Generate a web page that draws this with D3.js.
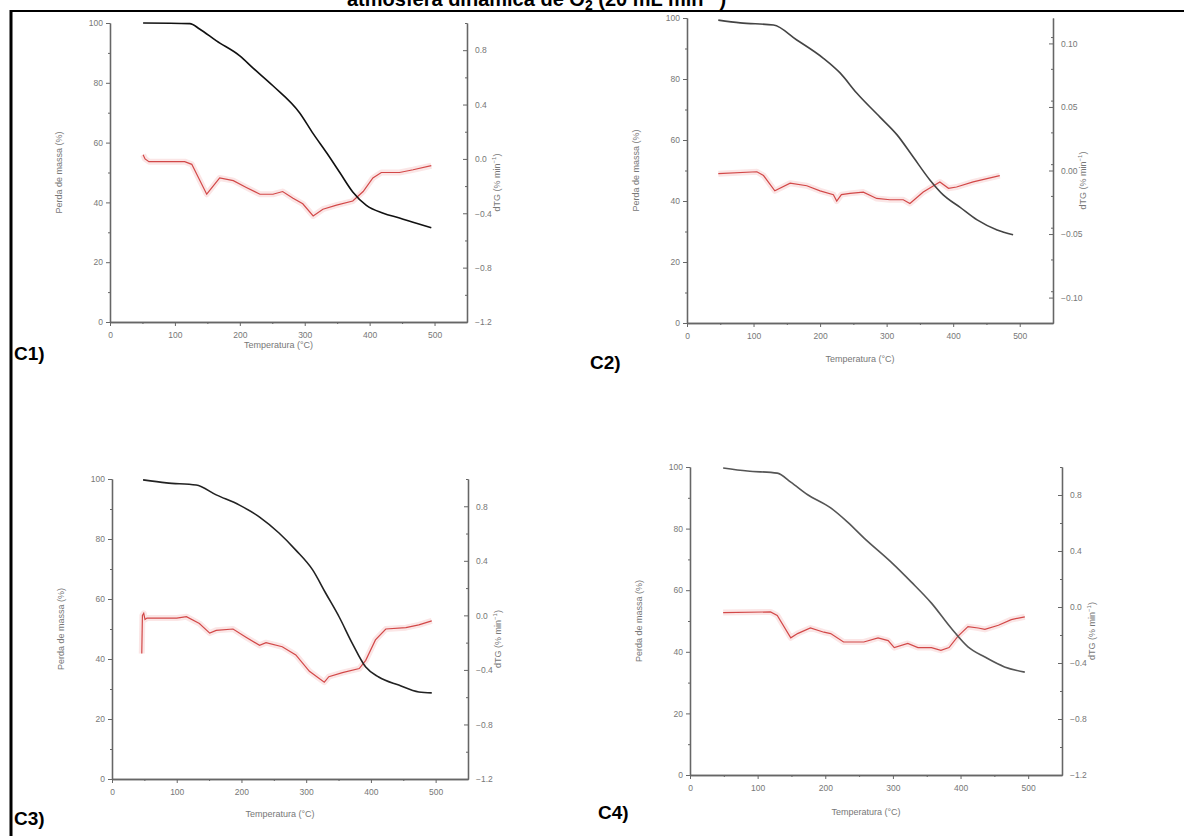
<!DOCTYPE html>
<html>
<head>
<meta charset="utf-8">
<script src="https://cdn.jsdelivr.net/npm/d3@7"></script>
<style>
  body { margin: 0; background: #fff; }
  svg { display: block; font-family: Arial, "Liberation Sans", sans-serif; }
</style>
</head>
<body>
<div id="chart"></div>
<script>
// temperature (°C) / mass (%) and dTG readings for each sample
const c1TG = [[51,100],[123,99.8],[138,98],[164,94],[200,89],[220,85],[251,79],[292,70],[313,63],[334,56.5],[354,50],[374,43.5],[395,39],[421,36.4],[446,34.8],[472,33],[495,31.5]];
const c1DTG = [[51,0.03],[54,0.0],[60,-0.02],[115,-0.02],[126,-0.04],[149,-0.26],[169,-0.14],[190,-0.16],[210,-0.21],[231,-0.26],[251,-0.26],[266,-0.24],[282,-0.29],[297,-0.33],[313,-0.42],[328,-0.37],[349,-0.34],[374,-0.31],[390,-0.24],[405,-0.14],[418,-0.10],[446,-0.10],[467,-0.08],[495,-0.05]];

const c2TG = [[47,99.3],[80,98.4],[130,97.7],[165,92.8],[205,86.8],[230,82],[255,75.4],[290,67.5],[316,61.6],[340,54.4],[365,46.9],[385,42],[410,38],[436,33.8],[466,30.5],[490,28.9]];
const c2DTG = [[47,-0.0025],[105,-0.001],[115,-0.004],[132,-0.016],[155,-0.010],[180,-0.012],[200,-0.016],[220,-0.019],[225,-0.024],[232,-0.019],[245,-0.018],[265,-0.017],[285,-0.022],[305,-0.023],[325,-0.023],[335,-0.026],[355,-0.017],[380,-0.009],[393,-0.014],[405,-0.013],[430,-0.009],[470,-0.004]];

const c3TG = [[48,99.7],[84,98.7],[130,98],[161,94.7],[197,91.3],[228,87.3],[258,82],[284,76.3],[310,69.7],[330,62],[351,54],[371,45.3],[392,37.3],[412,34],[443,31.3],[474,29],[494,28.7]];
const c3DTG = [[46,-0.28],[47,0.0],[49,0.015],[51,-0.03],[54,-0.02],[100,-0.02],[115,-0.01],[135,-0.06],[151,-0.13],[161,-0.11],[187,-0.10],[207,-0.16],[228,-0.22],[238,-0.20],[263,-0.23],[284,-0.29],[305,-0.41],[328,-0.49],[335,-0.45],[356,-0.42],[382,-0.39],[392,-0.33],[407,-0.18],[423,-0.10],[454,-0.09],[474,-0.07],[494,-0.04]];

const c4TG = [[49,99.7],[85,98.7],[129,98],[149,95.1],[174,91],[208,86.7],[233,82.1],[257,77],[297,69.2],[327,62.7],[357,55.8],[386,47.7],[411,41.6],[436,38.3],[465,35.1],[495,33.4]];
const c4DTG = [[49,-0.04],[119,-0.035],[129,-0.06],[149,-0.22],[159,-0.19],[178,-0.15],[198,-0.18],[208,-0.19],[227,-0.25],[257,-0.25],[278,-0.22],[293,-0.24],[302,-0.29],[322,-0.26],[337,-0.29],[357,-0.29],[371,-0.31],[383,-0.29],[396,-0.21],[411,-0.14],[426,-0.15],[436,-0.16],[456,-0.13],[475,-0.09],[495,-0.07]];

// tick labels
const tempTicks = [0, 100, 200, 300, 400, 500];
const massTicks = [0, 20, 40, 60, 80, 100];
const dtgTicksA = [-1.2, -0.8, -0.4, 0, 0.4, 0.8];
const dtgTicksB = [-0.10, -0.05, 0, 0.05, 0.10];

const W = 1184, H = 836;

const svg = d3.select("#chart")
  .append("svg")
  .attr("width", W)
  .attr("height", H);

// frame lines
svg.append("line").attr("x1", 10).attr("x2", W).attr("y1", 11).attr("y2", 11)
  .attr("stroke", "#000").attr("stroke-width", 2);
svg.append("line").attr("x1", 11).attr("x2", 11).attr("y1", 10).attr("y2", H)
  .attr("stroke", "#000").attr("stroke-width", 3);

// title, cut by the top of the page like in the source
const title = svg.append("text")
  .attr("x", 347).attr("y", 6)
  .style("font-size", "20px").style("font-weight", "bold").attr("fill", "#000");
title.append("tspan").text("atmosfera dinâmica de O");
title.append("tspan").attr("dy", 4).style("font-size", "14px").text("2");
title.append("tspan").attr("dy", -4).text(" (20 mL min");
title.append("tspan").attr("dy", -7).style("font-size", "14px").text("−1");
title.append("tspan").attr("dy", 7).text(")");

// panel layout
const panels = [
  { tag: "C1)", tg: c1TG, dtg: c1DTG, left: 110, right: 467, top: 23, bottom: 322,
    rDomain: [-1.2, 1.0], rTicks: dtgTicksA, rStep: 0.2, rFmt: ".1f",
    xLabY: 26, tagX: 14, tagY: 360, tgColor: "#111" },
  { tag: "C2)", tg: c2TG, dtg: c2DTG, left: 687, right: 1053, top: 18, bottom: 323,
    rDomain: [-0.12, 0.12], rTicks: dtgTicksB, rStep: 0.025, rFmt: ".2f",
    xLabY: 39, tagX: 590, tagY: 369, tgColor: "#444" },
  { tag: "C3)", tg: c3TG, dtg: c3DTG, left: 112, right: 468, top: 479, bottom: 779,
    rDomain: [-1.2, 1.0], rTicks: dtgTicksA, rStep: 0.2, rFmt: ".1f",
    xLabY: 38, tagX: 14, tagY: 825, tgColor: "#222" },
  { tag: "C4)", tg: c4TG, dtg: c4DTG, left: 690, right: 1062, top: 467, bottom: 775,
    rDomain: [-1.2, 1.0], rTicks: dtgTicksA, rStep: 0.2, rFmt: ".1f",
    xLabY: 40, tagX: 598, tagY: 819, tgColor: "#555" },
];

const axisColor = "#666";
const textColor = "#777";

panels.forEach((p) => {
  const g = svg.append("g");
  const x = d3.scaleLinear().domain([0, 550]).range([p.left, p.right]);
  const y = d3.scaleLinear().domain([0, 100]).range([p.bottom, p.top]);
  const yR = d3.scaleLinear().domain(p.rDomain).range([p.bottom, p.top]);

  // minor ticks
  const minorX = d3.range(50, 550, 100);
  const minorY = d3.range(10, 100, 20);
  const minorR = d3.range(p.rDomain[0], p.rDomain[1] + 1e-9, p.rStep)
    .filter((v) => !p.rTicks.some((t) => Math.abs(t - v) < 1e-6));

  g.append("g").attr("transform", `translate(0,${p.bottom})`)
    .call(d3.axisBottom(x).tickValues(minorX).tickSize(2).tickSizeOuter(0).tickFormat(""));
  g.append("g").attr("transform", `translate(${p.left},0)`)
    .call(d3.axisLeft(y).tickValues(minorY).tickSize(2).tickSizeOuter(0).tickFormat(""));
  g.append("g").attr("transform", `translate(${p.right},0)`)
    .call(d3.axisLeft(yR).tickValues(minorR).tickSize(2).tickSizeOuter(0).tickFormat(""));

  // major axes
  g.append("g").attr("transform", `translate(0,${p.bottom})`)
    .call(d3.axisBottom(x).tickValues(tempTicks).tickSize(4).tickSizeOuter(0).tickPadding(6).tickFormat(d3.format("d")));
  g.append("g").attr("transform", `translate(${p.left},0)`)
    .call(d3.axisLeft(y).tickValues(massTicks).tickSize(4).tickSizeOuter(0).tickPadding(3).tickFormat(d3.format("d")));
  g.append("g").attr("transform", `translate(${p.right},0)`)
    .call(d3.axisRight(yR).tickValues(p.rTicks).tickSize(-4).tickSizeOuter(0).tickPadding(8).tickFormat(d3.format(p.rFmt)));

  g.selectAll(".domain").attr("stroke", axisColor).attr("stroke-width", 1.3);
  g.selectAll(".tick line").attr("stroke", axisColor);
  g.selectAll(".tick text").attr("fill", textColor).style("font-size", "8.5px");

  // axis titles
  g.append("text")
    .attr("transform", `translate(${p.left - 48},${(p.top + p.bottom) / 2}) rotate(-90)`)
    .attr("text-anchor", "middle").attr("fill", textColor).style("font-size", "9px")
    .text("Perda de massa (%)");

  g.append("text")
    .attr("x", (p.left + p.right) / 2 - 10).attr("y", p.bottom + p.xLabY)
    .attr("text-anchor", "middle").attr("fill", textColor).style("font-size", "9px")
    .text("Temperatura (°C)");

  const rt = g.append("text")
    .attr("transform", `translate(${p.right + 33},${(p.top + p.bottom) / 2 + 10}) rotate(-90)`)
    .attr("text-anchor", "middle").attr("fill", textColor).style("font-size", "9px");
  rt.append("tspan").text("dTG (% min");
  rt.append("tspan").attr("dy", -4).style("font-size", "6px").text("−1");
  rt.append("tspan").attr("dy", 4).text(")");

  // curves
  const lineTG = d3.line().curve(d3.curveMonotoneX).x((d) => x(d[0])).y((d) => y(d[1]));
  const lineDTG = d3.line().x((d) => x(d[0])).y((d) => yR(d[1]));

  g.append("path").datum(p.dtg).attr("d", lineDTG)
    .attr("fill", "none").attr("stroke", "#fbe6e6").attr("stroke-width", 6).attr("stroke-linejoin", "round");
  g.append("path").datum(p.dtg).attr("d", lineDTG)
    .attr("fill", "none").attr("stroke", "#d24848").attr("stroke-width", 1.2);
  g.append("path").datum(p.tg).attr("d", lineTG)
    .attr("fill", "none").attr("stroke", p.tgColor).attr("stroke-width", 1.6);

  // panel tag
  svg.append("text")
    .attr("x", p.tagX).attr("y", p.tagY)
    .style("font-size", "19px").style("font-weight", "bold").attr("fill", "#000")
    .text(p.tag);
});
</script>
</body>
</html>
